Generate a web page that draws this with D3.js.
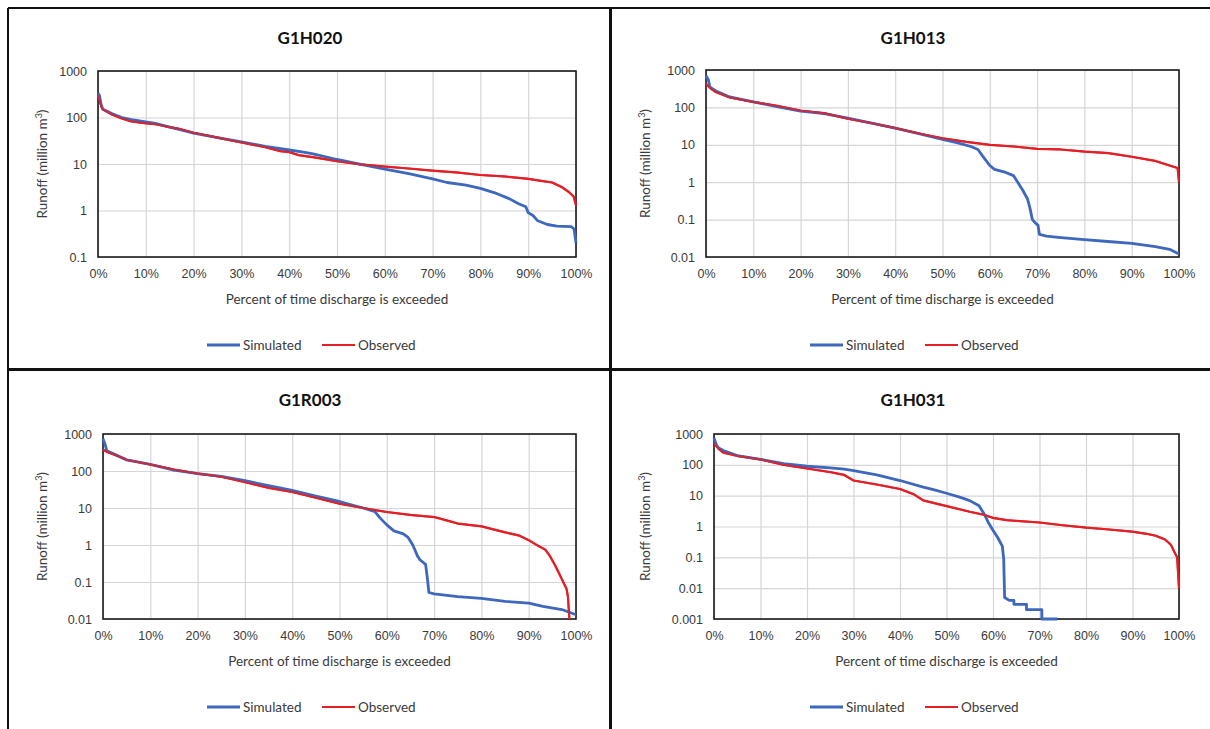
<!DOCTYPE html>
<html>
<head>
<meta charset="utf-8">
<script src="https://cdn.jsdelivr.net/npm/d3@7"></script>
<style>
  body { margin: 0; background: #fff; }
  svg { display: block; font-family: Lato, "Open Sans", sans-serif; }
  .tick text { fill: #3a3a3a; font-size: 12.5px; }
  .axis-title { fill: #3a3a3a; font-size: 13.5px; }
  .chart-title { fill: #111; font-size: 17px; font-weight: bold; }
  .legend-text { fill: #3a3a3a; font-size: 13.5px; }
</style>
</head>
<body>
<svg id="chart" width="1210" height="729"></svg>
<script>
// data: [percent exceeded, runoff in million m3]
const titles = ["G1H020", "G1H013", "G1R003", "G1H031"];
const xTicks = [0, 10, 20, 30, 40, 50, 60, 70, 80, 90, 100];
const yTicks1 = [0.1, 1, 10, 100, 1000];
const yTicks2 = [0.01, 0.1, 1, 10, 100, 1000];
const yTicks3 = [0.01, 0.1, 1, 10, 100, 1000];
const yTicks4 = [0.001, 0.01, 0.1, 1, 10, 100, 1000];
const seriesNames = ["Simulated", "Observed"];

const g1h020Sim = [[0,330],[0.3,300],[0.6,200],[1,150],[2,135],[3,120],[5,100],[7,90],[10,80],[12,75],[15,62],[18,52],[20,46],[25,37],[30,30],[35,24],[40,20],[43,18],[45,16.5],[50,12.5],[55,9.8],[60,7.8],[65,6.2],[70,4.8],[73,4.0],[77,3.5],[80,3.0],[83,2.4],[86,1.8],[88,1.4],[89.5,1.2],[90,0.9],[91,0.78],[92,0.6],[94,0.5],[96,0.46],[99,0.45],[99.6,0.4],[100,0.2]];
const g1h020Obs = [[0,300],[0.3,250],[0.7,170],[1,150],[3,115],[5,95],[7,82],[10,75],[12,72],[15,62],[17,57],[20,47],[25,37],[30,29],[35,23],[38,19],[40,18],[42,15.5],[45,14],[50,11.5],[55,9.8],[60,8.8],[65,8.0],[70,7.2],[75,6.6],[80,5.8],[85,5.4],[90,4.8],[93,4.3],[95,4.0],[97,3.2],[98.5,2.5],[99.5,2.0],[100,1.3]];

const g1h013Sim = [[0,700],[0.5,550],[0.8,350],[2,280],[5,190],[10,140],[15,105],[20,80],[25,68],[30,52],[35,38],[40,28],[45,20],[50,14],[53,11.5],[56,9],[57.5,7.5],[58.5,5],[60,2.8],[61,2.2],[63,1.9],[65,1.5],[66,0.95],[67,0.6],[68,0.35],[68.5,0.2],[69,0.1],[69.7,0.08],[70.2,0.07],[70.5,0.04],[72,0.036],[75,0.033],[80,0.029],[85,0.026],[90,0.023],[95,0.019],[98,0.016],[100,0.012]];
const g1h013Obs = [[0,420],[1,320],[2,260],[5,185],[10,140],[15,110],[20,82],[25,70],[30,50],[35,38],[40,28],[45,20],[50,15],[55,12],[60,10],[65,9],[70,7.8],[75,7.5],[80,6.6],[85,6.0],[90,4.8],[95,3.7],[98,2.8],[99.7,2.4],[100,1.0]];

const g1r003Sim = [[0,750],[0.5,500],[0.8,350],[2,300],[5,200],[10,150],[15,105],[20,85],[25,72],[30,55],[35,40],[40,30],[45,21],[50,15],[55,10],[57.5,8],[58.5,5.5],[60,3.5],[61.5,2.4],[63.5,2.0],[64.5,1.6],[65.5,1.0],[66.5,0.5],[67,0.4],[68.2,0.3],[68.6,0.12],[68.9,0.052],[70,0.048],[75,0.04],[80,0.036],[85,0.03],[90,0.027],[93,0.022],[97,0.018],[100,0.013]];
const g1r003Obs = [[0,380],[1,320],[3,260],[5,200],[10,150],[15,110],[20,85],[25,70],[30,50],[35,35],[40,27],[45,19],[50,13],[55,10],[57,9],[60,7.8],[65,6.5],[70,5.7],[73,4.5],[75,3.8],[80,3.2],[85,2.2],[88,1.8],[90,1.35],[92,0.95],[93.5,0.75],[94.5,0.5],[95.6,0.28],[97,0.12],[98,0.065],[98.3,0.04],[98.6,0.01]];

const g1h031Sim = [[0,750],[0.5,450],[1,350],[2,290],[5,200],[10,150],[15,110],[20,90],[25,80],[28,72],[30,65],[35,47],[40,31],[45,19],[47,16],[50,12],[53,8.8],[55,6.9],[57,4.7],[58,2.7],[59,1.35],[60,0.76],[61,0.44],[62,0.23],[62.3,0.09],[62.5,0.005],[63.5,0.004],[64.5,0.004],[64.5,0.003],[67.2,0.003],[67.2,0.002],[70.5,0.002],[70.5,0.001],[73.8,0.001]];
const g1h031Obs = [[0,500],[1,330],[2,250],[5,195],[10,150],[15,100],[20,76],[25,58],[28,47],[30,31],[35,23],[40,16.5],[43,11],[45,7],[50,4.6],[55,3.0],[58,2.4],[60,1.9],[63,1.6],[70,1.35],[75,1.1],[80,0.92],[85,0.8],[90,0.68],[93,0.58],[95,0.5],[97,0.38],[98.3,0.25],[99,0.15],[99.6,0.1],[100,0.01]];

// layout of the four panels (position only, no data)
const panels = [
  { title: titles[0], ox: 8,   oy: 8,   x0: 98,  x1: 576,  y0: 71,  y1: 257, ticks: yTicks1, sim: g1h020Sim, obs: g1h020Obs },
  { title: titles[1], ox: 611, oy: 8,   x0: 706, x1: 1179, y0: 70,  y1: 257, ticks: yTicks2, sim: g1h013Sim, obs: g1h013Obs },
  { title: titles[2], ox: 8,   oy: 370, x0: 103, x1: 576,  y0: 434, y1: 619, ticks: yTicks3, sim: g1r003Sim, obs: g1r003Obs },
  { title: titles[3], ox: 611, oy: 370, x0: 714, x1: 1179, y0: 434, y1: 619, ticks: yTicks4, sim: g1h031Sim, obs: g1h031Obs }
];

const blue = "#3d68bd";
const red = "#e41f26";

const svg = d3.select("#chart");

function fmtY(v) {
  return v >= 1 ? d3.format("d")(v) : String(+v.toPrecision(1));
}

panels.forEach(p => {
  const x = d3.scaleLinear().domain([0, 100]).range([p.x0, p.x1]);
  const y = d3.scaleLog().domain([d3.min(p.ticks), d3.max(p.ticks)]).range([p.y1, p.y0]);
  const g = svg.append("g");

  // gridlines
  g.append("g")
    .attr("transform", `translate(0,${p.y1})`)
    .call(d3.axisBottom(x).tickValues(xTicks).tickSize(-(p.y1 - p.y0)).tickFormat(""))
    .call(a => a.select(".domain").remove())
    .call(a => a.selectAll(".tick line").attr("stroke", "#d6d6d6").attr("stroke-width", 1.2));
  g.append("g")
    .attr("transform", `translate(${p.x0},0)`)
    .call(d3.axisLeft(y).tickValues(p.ticks).tickSize(-(p.x1 - p.x0)).tickFormat(""))
    .call(a => a.select(".domain").remove())
    .call(a => a.selectAll(".tick line").attr("stroke", "#d6d6d6").attr("stroke-width", 1.2));

  // plot frame
  g.append("rect")
    .attr("x", p.x0).attr("y", p.y0)
    .attr("width", p.x1 - p.x0).attr("height", p.y1 - p.y0)
    .attr("fill", "none").attr("stroke", "#1a1a1a").attr("stroke-width", 1.6);

  // tick labels
  g.append("g")
    .attr("transform", `translate(0,${p.y1})`)
    .call(d3.axisBottom(x).tickValues(xTicks).tickSize(0).tickPadding(12).tickFormat(d => d + "%"))
    .call(a => a.select(".domain").remove());
  g.append("g")
    .attr("transform", `translate(${p.x0},0)`)
    .call(d3.axisLeft(y).tickValues(p.ticks).tickSize(0).tickPadding(11).tickFormat(fmtY))
    .call(a => a.select(".domain").remove());
  g.selectAll(".tick text").attr("font-family", null).attr("font-size", null);

  // lines
  const line = d3.line()
    .x(d => x(d[0]))
    .y(d => y(d[1]));
  g.append("path").datum(p.obs)
    .attr("d", line).attr("fill", "none")
    .attr("stroke", red).attr("stroke-width", 2.2).attr("stroke-linejoin", "round");
  g.append("path").datum(p.sim)
    .attr("d", line).attr("fill", "none")
    .attr("stroke", blue).attr("stroke-width", 2.8).attr("stroke-linejoin", "round");
  // observed drawn on top where it overlaps, like the original
  g.append("path").datum(p.obs)
    .attr("d", line).attr("fill", "none")
    .attr("stroke", red).attr("stroke-width", 2).attr("stroke-linejoin", "round")
    .attr("opacity", 0.85);

  // titles
  g.append("text").attr("class", "chart-title")
    .attr("x", p.ox + 302).attr("y", p.oy + 36)
    .attr("text-anchor", "middle").text(p.title);
  g.append("text").attr("class", "axis-title")
    .attr("x", (p.x0 + p.x1) / 2).attr("y", p.oy + 296)
    .attr("text-anchor", "middle").text("Percent of time discharge is exceeded");
  const yt = g.append("text").attr("class", "axis-title")
    .attr("transform", `translate(${p.ox + 39},${(p.y0 + p.y1) / 2}) rotate(-90)`)
    .attr("text-anchor", "middle");
  yt.append("tspan").text("Runoff (million m");
  yt.append("tspan").attr("font-size", "9px").attr("dy", "-5").text("3");
  yt.append("tspan").attr("dy", "5").text(")");

  // legend
  const lg = g.append("g").attr("transform", `translate(${p.ox + 199},${p.oy + 337})`);
  [[0, blue, 2.8], [115, red, 2]].forEach((it, i) => {
    lg.append("line")
      .attr("x1", it[0]).attr("x2", it[0] + 33)
      .attr("y1", 0).attr("y2", 0)
      .attr("stroke", it[1]).attr("stroke-width", it[2]);
    lg.append("text").attr("class", "legend-text")
      .attr("x", it[0] + 36).attr("y", 4.5)
      .text(seriesNames[i]);
  });
});

// table borders around the panels
const border = svg.append("g").attr("stroke", "#111").attr("fill", "none");
border.append("line").attr("x1", 8).attr("x2", 1210).attr("y1", 8).attr("y2", 8).attr("stroke-width", 2);
border.append("line").attr("x1", 8).attr("x2", 8).attr("y1", 8).attr("y2", 729).attr("stroke-width", 2);
border.append("line").attr("x1", 610.5).attr("x2", 610.5).attr("y1", 8).attr("y2", 729).attr("stroke-width", 3);
border.append("line").attr("x1", 8).attr("x2", 1210).attr("y1", 369.5).attr("y2", 369.5).attr("stroke-width", 3);
</script>
</body>
</html>
